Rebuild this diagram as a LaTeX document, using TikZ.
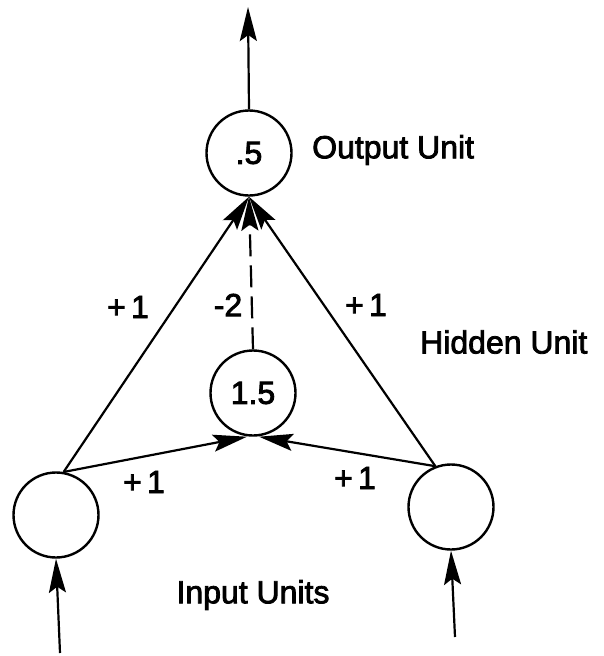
\documentclass[tikz,border=0pt]{standalone}
\usepackage{fontspec}
\setmainfont{Liberation Sans}
\newfontfamily\lblfont[FakeBold=2.5]{Liberation Sans}
\usetikzlibrary{arrows.meta}
\begin{document}
\begin{tikzpicture}[x=1pt,y=-1pt,
  unit/.style={circle,draw,line width=2.4pt,minimum size=85pt,inner sep=0pt},
  lbl/.style={inner sep=0pt,font=\fontsize{32}{36}\lblfont},
  conn/.style={line width=2.2pt,-{Stealth[length=34pt,width=17pt,inset=6pt]}},
  weak/.style={conn,dash pattern=on 22pt off 9pt}]
\useasboundingbox (0,0) rectangle (604,656);

% units
\node[unit,lbl] (out) at (249,153) {.5};
\node[unit,lbl] (hid) at (253,393) {1.5};
\node[unit] (lin) at (56,515) {};
\node[unit] (rin) at (451,507) {};

% free ends of the external connections
\coordinate (top) at (248,7);
\coordinate (lsrc) at (60,653);
\coordinate (rsrc) at (455,637);

% connections
\draw[conn] (out.north) -- (top);
\draw[conn] (lsrc) -- (lin.south);
\draw[conn] (rsrc) -- (rin.south);
\draw[conn] (lin.80) -- (out.south);
\draw[conn] (rin.111) -- (out.south);
\draw[weak] (hid.north) -- (out.south);
\draw[conn] (lin.80) -- ([xshift=-6pt]hid.south);
\draw[conn] (rin.111) -- ([xshift=6pt]hid.south);

% weights
\node[lbl] (w1) at (128,307) {+\,1};
\node[lbl] (w2) at (228,305) {-2};
\node[lbl] (w3) at (366,305) {+\,1};
\node[lbl] (w4) at (144,482) {+\,1};
\node[lbl] (w5) at (355,478) {+\,1};

% captions
\node[lbl,anchor=west] (cout) at (312,150) {Output Unit};
\node[lbl,anchor=west] (chid) at (420,342) {Hidden Unit};
\node[lbl] (cin) at (253,595) {Input Units};
\end{tikzpicture}
\end{document}
